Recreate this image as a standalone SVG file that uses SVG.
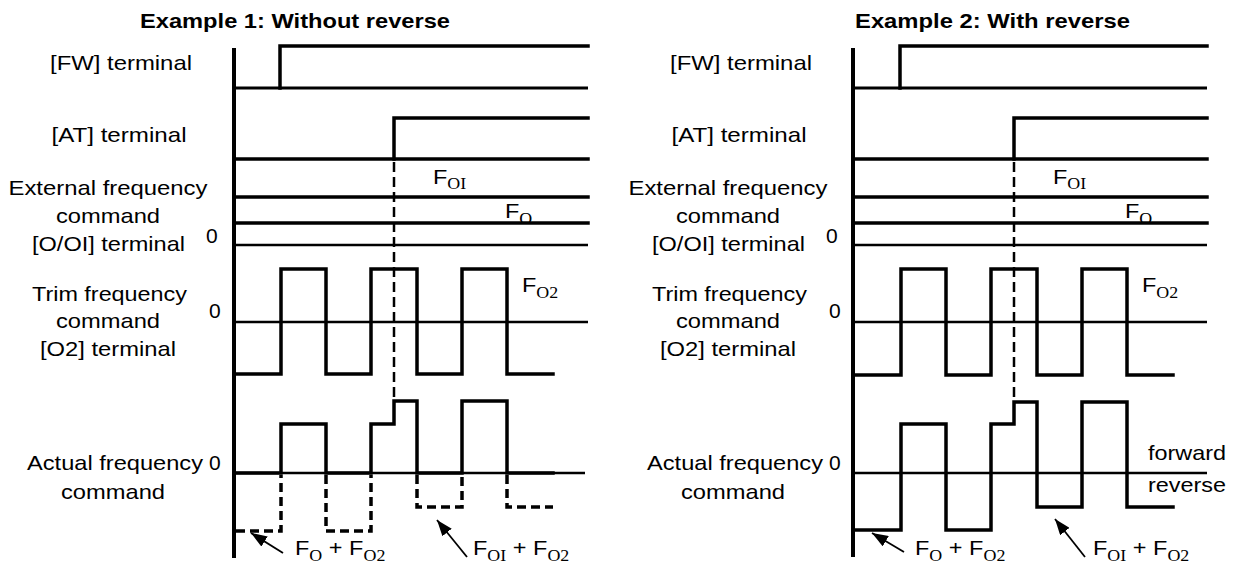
<svg xmlns="http://www.w3.org/2000/svg" width="1239" height="566" viewBox="0 0 1239 566">
<style>
.w{fill:none;stroke:#000;stroke-width:3.5;stroke-linejoin:miter;stroke-linecap:square}
.m{fill:none;stroke:#000;stroke-width:3}
.z{fill:none;stroke:#000;stroke-width:2.5}
.ax{fill:none;stroke:#000;stroke-width:4}
.d{fill:none;stroke:#000;stroke-width:3.5;stroke-dasharray:9 5}
.dv{fill:none;stroke:#000;stroke-width:2.5;stroke-dasharray:10 5}
.ar{fill:none;stroke:#000;stroke-width:1.8;marker-end:url(#ah)}
.lbl{font-family:"Liberation Sans",Arial,sans-serif;font-size:21px;fill:#000}
.sub{font-family:"Liberation Serif","Times New Roman",serif;font-size:16px}
.ttl{font-family:"Liberation Sans",Arial,sans-serif;font-size:20.5px;font-weight:bold;fill:#000}
.c{text-anchor:middle}
</style>
<defs>
<marker id="ah" markerUnits="userSpaceOnUse" markerWidth="16" markerHeight="12" refX="16" refY="6" orient="auto">
<path d="M0,0 L16,6 L0,12 Z" fill="#000"/>
</marker>
</defs>
<rect width="1239" height="566" fill="#fff"/>

<!-- Example 1 -->
<g id="example1">
<text class="ttl" x="140" y="28" textLength="310" lengthAdjust="spacingAndGlyphs">Example 1: Without reverse</text>
<g id="ex1-labels">
<text class="lbl c" x="121" y="70" textLength="142" lengthAdjust="spacingAndGlyphs">[FW] terminal</text>
<text class="lbl c" x="119" y="142" textLength="135" lengthAdjust="spacingAndGlyphs">[AT] terminal</text>
<text class="lbl c" x="108" y="195" textLength="199" lengthAdjust="spacingAndGlyphs">External frequency</text>
<text class="lbl c" x="108" y="223" textLength="104" lengthAdjust="spacingAndGlyphs">command</text>
<text class="lbl c" x="108.5" y="251" textLength="153" lengthAdjust="spacingAndGlyphs">[O/OI] terminal</text>
<text class="lbl" x="206" y="243">0</text>
<text class="lbl c" x="109.5" y="301" textLength="155" lengthAdjust="spacingAndGlyphs">Trim frequency</text>
<text class="lbl c" x="108" y="328" textLength="104" lengthAdjust="spacingAndGlyphs">command</text>
<text class="lbl c" x="108" y="356" textLength="136" lengthAdjust="spacingAndGlyphs">[O2] terminal</text>
<text class="lbl" x="209" y="318">0</text>
<text class="lbl" x="27" y="470" textLength="176" lengthAdjust="spacingAndGlyphs">Actual frequency</text>
<text class="lbl" x="209" y="470">0</text>
<text class="lbl c" x="113" y="499" textLength="104" lengthAdjust="spacingAndGlyphs">command</text>
</g>
<g id="ex1-values">
<text class="lbl" transform="translate(433,184) scale(1.12,1)">F<tspan class="sub" dy="5">OI</tspan></text>
<text class="lbl" transform="translate(505,218) scale(1.12,1)">F<tspan class="sub" dy="6">O</tspan></text>
<text class="lbl" transform="translate(522,292) scale(1.12,1)">F<tspan class="sub" dy="6">O2</tspan></text>
<text class="lbl" style="white-space:pre" transform="translate(295,555) scale(1.12,1)">F<tspan class="sub" dy="6">O</tspan><tspan dy="-6"> + F</tspan><tspan class="sub" dy="6">O2</tspan></text>
<text class="lbl" style="white-space:pre" transform="translate(473,555) scale(1.12,1)">F<tspan class="sub" dy="6">OI</tspan><tspan dy="-6"> + F</tspan><tspan class="sub" dy="6">O2</tspan></text>
</g>
<g id="ex1-axis"><line class="ax" x1="234" y1="48" x2="234" y2="558"/></g>
<g id="ex1-fw">
<line class="m" x1="234" y1="88" x2="588" y2="88"/>
<path class="w" d="M280,88 V46 H588"/>
</g>
<g id="ex1-at">
<line class="w" x1="236" y1="159" x2="588" y2="159"/>
<path class="w" d="M394,159 V118 H588"/>
</g>
<g id="ex1-ext">
<line class="w" x1="236" y1="197" x2="588" y2="197"/>
<line class="w" x1="236" y1="223" x2="588" y2="223"/>
<line class="z" x1="234" y1="245" x2="588" y2="245"/>
</g>
<g id="ex1-trim">
<line class="z" x1="234" y1="322" x2="588" y2="322"/>
<path class="w" d="M236,374 H281 V269 H326 V374 H371 V269 H417 V374 H462 V269 H507 V374 H553"/>
</g>
<g id="ex1-actual">
<line class="z" x1="232" y1="473" x2="585" y2="473"/>
<path class="w" d="M236,473 H281 V424 H326 V473 H371 V424 H394 V401 H417 V473 H462 V401 H507 V473 H553"/>
<path class="d" d="M236,531 H281 V475 M326,475 V531 H371 V475 M417,475 V507 H462 V475 M507,475 V507 H553"/>
</g>
</g>

<!-- Example 2 -->
<g id="example2">
<text class="ttl" x="855" y="28" textLength="275" lengthAdjust="spacingAndGlyphs">Example 2: With reverse</text>
<g id="ex2-labels">
<text class="lbl c" x="741" y="70" textLength="142" lengthAdjust="spacingAndGlyphs">[FW] terminal</text>
<text class="lbl c" x="739" y="142" textLength="135" lengthAdjust="spacingAndGlyphs">[AT] terminal</text>
<text class="lbl c" x="728" y="195" textLength="199" lengthAdjust="spacingAndGlyphs">External frequency</text>
<text class="lbl c" x="728" y="223" textLength="104" lengthAdjust="spacingAndGlyphs">command</text>
<text class="lbl c" x="728.5" y="251" textLength="153" lengthAdjust="spacingAndGlyphs">[O/OI] terminal</text>
<text class="lbl" x="826" y="243">0</text>
<text class="lbl c" x="729.5" y="301" textLength="155" lengthAdjust="spacingAndGlyphs">Trim frequency</text>
<text class="lbl c" x="728" y="328" textLength="104" lengthAdjust="spacingAndGlyphs">command</text>
<text class="lbl c" x="728" y="356" textLength="136" lengthAdjust="spacingAndGlyphs">[O2] terminal</text>
<text class="lbl" x="829" y="318">0</text>
<text class="lbl" x="647" y="470" textLength="176" lengthAdjust="spacingAndGlyphs">Actual frequency</text>
<text class="lbl" x="829" y="470">0</text>
<text class="lbl c" x="733" y="499" textLength="104" lengthAdjust="spacingAndGlyphs">command</text>
<text class="lbl" x="1148" y="460" textLength="78" lengthAdjust="spacingAndGlyphs">forward</text>
<text class="lbl" x="1148" y="492" textLength="78" lengthAdjust="spacingAndGlyphs">reverse</text>
</g>
<g id="ex2-values">
<text class="lbl" transform="translate(1053,184) scale(1.12,1)">F<tspan class="sub" dy="5">OI</tspan></text>
<text class="lbl" transform="translate(1125,218) scale(1.12,1)">F<tspan class="sub" dy="6">O</tspan></text>
<text class="lbl" transform="translate(1142,292) scale(1.12,1)">F<tspan class="sub" dy="6">O2</tspan></text>
<text class="lbl" style="white-space:pre" transform="translate(915,555) scale(1.12,1)">F<tspan class="sub" dy="6">O</tspan><tspan dy="-6"> + F</tspan><tspan class="sub" dy="6">O2</tspan></text>
<text class="lbl" style="white-space:pre" transform="translate(1093,555) scale(1.12,1)">F<tspan class="sub" dy="6">OI</tspan><tspan dy="-6"> + F</tspan><tspan class="sub" dy="6">O2</tspan></text>
</g>
<g id="ex2-axis"><line class="ax" x1="853" y1="48" x2="853" y2="557"/></g>
<g id="ex2-fw">
<line class="m" x1="853" y1="88" x2="1207" y2="88"/>
<path class="w" d="M900,88 V46 H1207"/>
</g>
<g id="ex2-at">
<line class="w" x1="855" y1="159" x2="1207" y2="159"/>
<path class="w" d="M1014,159 V118 H1207"/>
</g>
<g id="ex2-ext">
<line class="w" x1="855" y1="197" x2="1207" y2="197"/>
<line class="w" x1="855" y1="223" x2="1207" y2="223"/>
<line class="z" x1="853" y1="245" x2="1207" y2="245"/>
</g>
<g id="ex2-trim">
<line class="z" x1="853" y1="322" x2="1207" y2="322"/>
<path class="w" d="M855,375 H901 V269 H946 V375 H991 V269 H1037 V375 H1082 V269 H1127 V375 H1173"/>
</g>
<g id="ex2-actual">
<line class="z" x1="853" y1="473" x2="1207" y2="473"/>
<path class="w" d="M855,530 H901 V424 H946 V530 H991 V424 H1014 V402 H1037 V507 H1082 V402 H1127 V507 H1173"/>
</g>
</g>

<g id="connectors">
<line class="dv" x1="394" y1="162" x2="394" y2="400"/>
<line class="dv" x1="1014" y1="162" x2="1014" y2="401"/>
<line class="ar" x1="283" y1="553" x2="251" y2="533"/>
<line class="ar" x1="467" y1="557" x2="437" y2="520"/>
<line class="ar" x1="904" y1="552" x2="872" y2="533"/>
<line class="ar" x1="1085" y1="557" x2="1055" y2="519"/>
</g>
</svg>
